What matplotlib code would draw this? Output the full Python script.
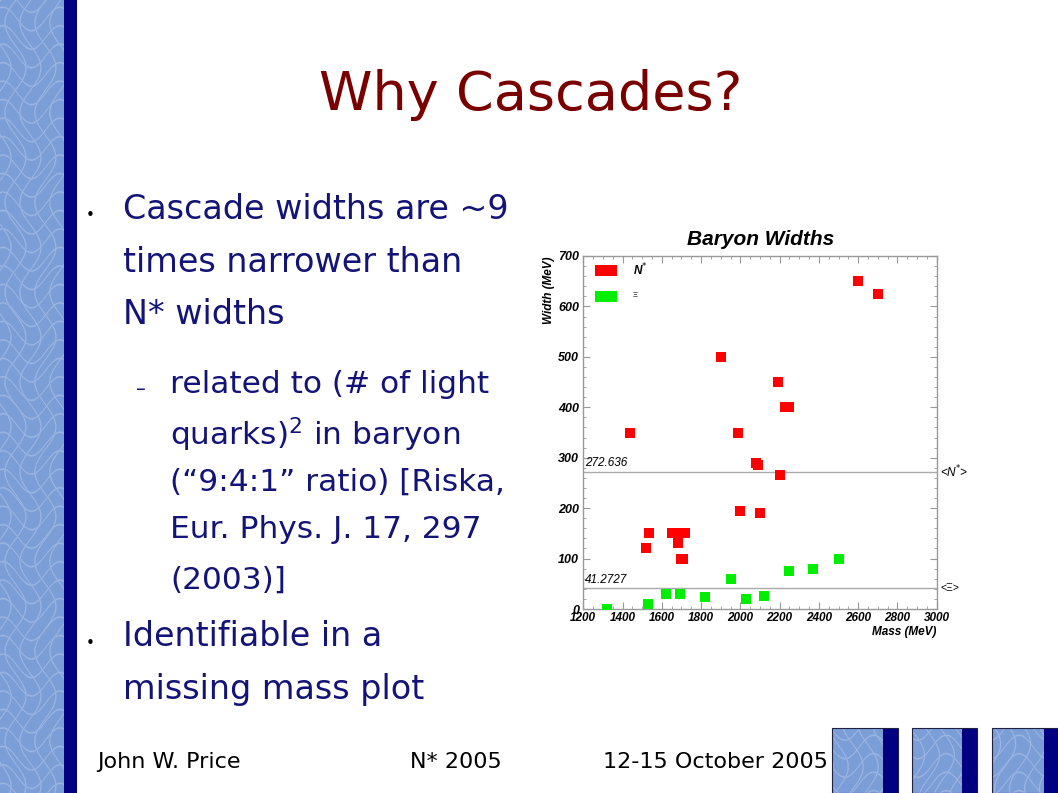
import numpy as np
import matplotlib
matplotlib.use("Agg")
import matplotlib.pyplot as plt
from matplotlib.patches import Rectangle
from matplotlib.transforms import blended_transform_factory

# ---------------- data ----------------
nstar_mass = [1440, 1520, 1535, 1650, 1675, 1680, 1700, 1710, 1720, 1900, 1990,
              2000, 2080, 2090, 2100, 2190, 2200, 2225, 2250, 2600, 2700]
nstar_width = [350, 120, 150, 150, 150, 130, 100, 100, 150, 500, 350,
               195, 290, 285, 190, 450, 265, 400, 400, 650, 625]
xi_mass = [1320, 1530, 1620, 1690, 1820, 1950, 2030, 2120, 2250, 2370, 2500]
xi_width = [0, 10, 30, 30, 24, 60, 20, 25, 75, 80, 100]
nstar_mean = 272.636
xi_mean = 41.2727
x_ticks = [1200, 1400, 1600, 1800, 2000, 2200, 2400, 2600, 2800, 3000]
y_ticks = [0, 100, 200, 300, 400, 500, 600, 700]

title = "Why Cascades?"
bullet1 = ["Cascade widths are ~9", "times narrower than", "N* widths"]
sub1 = ["related to (# of light", "quarks)$^{2}$ in baryon",
        "(\u201c9:4:1\u201d ratio) [Riska,", "Eur. Phys. J. 17, 297", "(2003)]"]
bullet2 = ["Identifiable in a", "missing mass plot"]
footer = ["John W. Price", "N* 2005", "12-15 October 2005"]

W, H = 1058, 793
fig = plt.figure(figsize=(W / 100, H / 100), dpi=100)
fig.patch.set_facecolor("white")

def fx(px):
    return px / W

def fy(py):
    return 1 - py / H

# ---------------- decorative texture ----------------
def texture(wpx, hpx, shift=0.0):
    yy, xx = np.mgrid[0:hpx, 0:wpx].astype(float)
    a = np.sin(xx * 0.21 + 2.2 * np.sin(yy * 0.07 + shift) + shift)
    b = np.sin(yy * 0.17 + 2.0 * np.sin(xx * 0.11 + 1.3 + shift))
    v = np.minimum(np.abs(a), np.abs(b))
    hl = np.clip(1 - v / 0.25, 0, 1) * 0.35
    base = np.array([124, 158, 214]) / 255.0
    img = base[None, None, :] * (1 - hl[..., None]) + np.array([0.85, 0.9, 1.0])[None, None, :] * hl[..., None]
    return img

axbg = fig.add_axes([0, 0, 1, 1], zorder=-5)
axbg.set_xlim(0, W)
axbg.set_ylim(H, 0)
axbg.axis("off")
axbg.imshow(texture(64, H), extent=[0, 64, H, 0], interpolation="bilinear", aspect="auto")
axbg.add_patch(Rectangle((64, 0), 13, H, color="#000080", lw=0))

for x0, xn, x1 in [(832, 883, 898), (912, 962, 977), (992, 1044, 1058)]:
    axbg.imshow(texture(xn - x0, H - 728, x0 * 0.01), extent=[x0, xn, H, 728],
                interpolation="bilinear", aspect="auto")
    axbg.add_patch(Rectangle((xn, 728), x1 - xn, H - 728, color="#000080", lw=0))
    axbg.add_patch(Rectangle((x0, 728), x1 - x0, H - 728, fill=False, ec="#202040", lw=0.8))

# ---------------- slide text ----------------
navy = "#141478"
fig.text(fx(531), fy(95), title, color="#7a0000", fontsize=39, ha="center", va="center",
         family="DejaVu Sans")

ys = [210, 262, 314]
for t, y in zip(bullet1, ys):
    fig.text(fx(123), fy(y), t, color=navy, fontsize=24, ha="left", va="center")
fig.text(fx(90), fy(216), "\u2022", color="black", fontsize=11, ha="center", va="center")

ys = [385, 435, 482, 530, 580]
for t, y in zip(sub1, ys):
    fig.text(fx(170), fy(y), t, color=navy, fontsize=22.5, ha="left", va="center")
fig.text(fx(141), fy(389), "\u2013", color=navy, fontsize=14, ha="center", va="center")

ys = [637, 690]
for t, y in zip(bullet2, ys):
    fig.text(fx(123), fy(y), t, color=navy, fontsize=24, ha="left", va="center")
fig.text(fx(90), fy(643), "\u2022", color="black", fontsize=11, ha="center", va="center")

for t, x in zip(footer, [97, 410, 603]):
    fig.text(fx(x), fy(762), t, color="black", fontsize=16, ha="left", va="center")

# ---------------- chart ----------------
cf = "Liberation Sans"
ax = fig.add_axes([fx(583.3), fy(609), (936.7 - 583.3) / W, (609 - 256) / H])
ax.set_xlim(1200, 3000)
ax.set_ylim(0, 700)
ax.set_xticks(x_ticks)
ax.set_yticks(y_ticks)
ax.set_xticks(np.arange(1200, 3001, 50), minor=True)
ax.set_yticks(np.arange(0, 701, 20), minor=True)
ax.set_xticklabels([str(v) for v in x_ticks], fontsize=8.5, fontweight="bold", style="italic", family=cf)
ax.set_yticklabels([str(v) for v in y_ticks], fontsize=9, fontweight="bold", style="italic", family=cf)
ax.tick_params(which="both", direction="in", top=True, right=True, color="#999999")
ax.tick_params(axis="x", pad=2)
ax.tick_params(axis="y", pad=3)
ax.tick_params(which="major", length=5, width=0.8)
ax.tick_params(which="minor", length=2.5, width=0.6)
for s in ax.spines.values():
    s.set_color("#999999")
    s.set_linewidth(1.0)

ax.axhline(nstar_mean, color="#aaaaaa", lw=1.0, zorder=1)
ax.axhline(xi_mean, color="#aaaaaa", lw=1.0, zorder=1)

ax.plot(nstar_mass, nstar_width, "s", color="#ff0000", ms=6.5, mew=0, zorder=3, clip_on=True)
ax.plot(xi_mass, xi_width, "s", color="#00ee00", ms=6.5, mew=0, zorder=3, clip_on=True)

tr = blended_transform_factory(ax.transAxes, ax.transData)
ax.text(0.005, nstar_mean + 4, f"{nstar_mean:g}", transform=tr, fontsize=8.5, style="italic",
        ha="left", va="bottom", family=cf)
ax.text(0.005, xi_mean + 4, f"{xi_mean:g}", transform=tr, fontsize=8.5, style="italic",
        ha="left", va="bottom", family=cf)
ax.text(1.01, nstar_mean, "<N$^{*}$>", transform=tr, fontsize=8.5, style="italic",
        ha="left", va="center", family=cf)
ax.text(1.01, xi_mean, "<\u039e>", transform=tr, fontsize=7.5, ha="left", va="center", family=cf)

ax.text(0.503, 1.048, "Baryon Widths", transform=ax.transAxes, fontsize=15,
        fontweight="bold", style="italic", ha="center", va="center", family=cf)
ax.text(-0.097, 1.0, "Width (MeV)", transform=ax.transAxes, rotation=90, fontsize=8.5,
        fontweight="bold", style="italic", ha="center", va="top", family=cf)
ax.text(1.0, -0.065, "Mass (MeV)", transform=ax.transAxes, fontsize=8.5,
        fontweight="bold", style="italic", ha="right", va="center", family=cf)

# legend
ax.add_patch(Rectangle((0.034, 0.944), 0.062, 0.031, transform=ax.transAxes,
                       color="#ff0000", lw=0, clip_on=False))
ax.add_patch(Rectangle((0.034, 0.871), 0.062, 0.031, transform=ax.transAxes,
                       color="#00ee00", lw=0, clip_on=False))
ax.text(0.14, 0.960, "N$^{*}$", transform=ax.transAxes, fontsize=8.5, fontweight="bold",
        style="italic", ha="left", va="center", family=cf)
ax.text(0.14, 0.887, "\u039e", transform=ax.transAxes, fontsize=5.5, ha="left",
        va="center", family=cf)

fig.savefig("out.png", dpi=100)
